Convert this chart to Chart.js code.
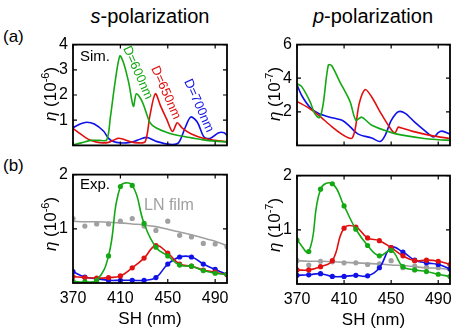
<!DOCTYPE html>
<html lang="en">
<head>
<meta charset="UTF-8">
<script src="https://cdn.jsdelivr.net/npm/chart.js"></script>
<style>
    body { margin: 0; width: 464px; height: 333px; background: #fff; position: relative; overflow: hidden;
           font-family: "Liberation Sans", Arial, sans-serif; color: #000; }
    canvas { position: absolute; }
    .txt { position: absolute; white-space: nowrap; line-height: 1; }
    .ylab { position: absolute; white-space: nowrap; font-size: 17px; line-height: 1;
            transform: translate(-50%, -50%) rotate(-90deg); }
    .ylab sup { font-size: 11px; vertical-align: 7px; }
    .rot { position: absolute; white-space: nowrap; font-size: 13px; line-height: 1;
           transform-origin: 0 50%; transform: rotate(66deg); }
</style>
</head>
<body>

<div class="txt" style="left:150px;top:6px;font-size:20px;transform:translateX(-50%)"><i>s</i>-polarization</div>
<div class="txt" style="left:373px;top:6px;font-size:20px;transform:translateX(-50%)"><i>p</i>-polarization</div>
<div class="txt" style="left:3px;top:28px;font-size:17px">(a)</div>
<div class="txt" style="left:3px;top:157px;font-size:17px">(b)</div>

<canvas id="sSim" width="240" height="130" style="left:0;top:30px"></canvas>
<canvas id="pSim" width="232" height="130" style="left:232px;top:30px"></canvas>
<canvas id="sExp" width="240" height="173" style="left:0;top:160px"></canvas>
<canvas id="pExp" width="232" height="173" style="left:232px;top:161px"></canvas>

<div class="ylab" style="left:49px;top:94px"><i>η</i> (10<sup>-6</sup>)</div>
<div class="ylab" style="left:273px;top:94px"><i>η</i> (10<sup>-7</sup>)</div>
<div class="ylab" style="left:49px;top:224px"><i>η</i> (10<sup>-6</sup>)</div>
<div class="ylab" style="left:273px;top:225px"><i>η</i> (10<sup>-7</sup>)</div>

<div class="txt" style="left:80px;top:48px;font-size:15px">Sim.</div>
<div class="txt" style="left:80px;top:176px;font-size:15px">Exp.</div>
<div class="txt" style="left:144px;top:197px;font-size:16px;color:#a0a0a0">LN film</div>

<div class="rot" style="left:127px;top:40px;color:#14a814">D=600nm</div>
<div class="rot" style="left:155px;top:60px;color:#e01010">D=650nm</div>
<div class="rot" style="left:188px;top:73px;color:#1010e8">D=700nm</div>

<script>
    // simulated spectra, s-polarization (units 1e-6)
    var sSim600Nm = [370,377,385,392,398.5,401.5,405.5,409.5,412.5,417,421,423.5,428.5,435,440,450,460,470,480,490,500];
    var sSim600   = [0.02,0.1,0.2,0.2,0.22,1.1,2.5,3.55,3.3,2.5,1.55,2.05,1.73,0.9,0.7,0.5,0.38,0.3,0.22,0.17,0.14];
    var sSim650Nm = [370,375,380,385,390,395,400,404,408,412,418,425,431,435,439.5,444,449,454,458,462,470,480,490,500];
    var sSim650   = [0.67,0.5,0.33,0.2,0.13,0.1,0.12,0.2,0.28,0.25,0.15,0.1,0.15,1.2,2.05,1.56,1.05,0.55,0.9,0.7,0.45,0.28,0.2,0.14];
    var sSim700Nm = [370,376,381.6,388,395.7,400,404,410,418,424,432,441,452,459,465,469.5,475,480.6,486,493,497.6,500];
    var sSim700   = [0.7,0.85,0.92,0.85,0.57,0.28,0.15,0.1,0.12,0.2,0.32,0.15,0.04,0.1,0.74,1.13,0.92,0.33,0.28,0.5,0.5,0.39];

    // simulated spectra, p-polarization (units 1e-7)
    var pSim600Nm = [370,374,381,385,389,392,396.6,399.5,406.5,415,420,425,433.5,450.4,462,478,490,500];
    var pSim600   = [3.68,3.5,2.62,1.91,1.65,2.35,4.78,4.74,3.77,2.62,1.5,1.68,1.2,0.76,0.58,0.41,0.34,0.3];
    var pSim650Nm = [370,381,388,399.5,408,414,417,419.5,423,428,433.5,440.6,447.6,453,456,459,467.5,484.5,500];
    var pSim650   = [2.62,2.18,1.82,1.12,0.67,0.44,0.45,1.0,2.53,3.33,2.88,2.0,1.2,0.73,1.08,1.03,0.85,0.58,0.41];
    var pSim700Nm = [370,374,381,388,398,409,415,422,433.5,440.6,444.8,450,456,462,470,479,486,490,493,500];
    var pSim700   = [3.6,2.97,2.27,1.91,1.68,1.47,1.12,0.67,0.44,0.23,0.58,1.47,2.0,1.91,1.38,0.85,0.5,0.76,0.85,0.67];

    // measured spectra, 10 nm steps
    var expNm = [370,380,390,400,410,420,430,440,450,460,470,480,490,500];
    var sExpGreen = [0.03,0.02,0.05,0.5,1.78,1.8,1.1,0.66,0.5,0.33,0.31,0.23,0.18,0.16];
    var sExpRed   = [0.12,0.1,0.09,0.1,0.13,0.28,0.46,0.69,0.55,0.35,0.31,0.24,0.2,0.15];
    var sExpBlue  = [0.21,0.11,0.08,0.05,0.05,0.05,0.05,0.1,0.35,0.48,0.48,0.35,0.25,0.16];
    var sExpFilm  = [1.19,1.05,1.09,1.09,1.14,1.19,1.05,0.97,1.14,0.88,0.85,0.73,0.72,0.67];
    var sFilmFit  = [1.14,1.13,1.13,1.12,1.11,1.09,1.07,1.04,0.99,0.94,0.89,0.83,0.77,0.69];
    var pExpGreen = [0.81,0.6,1.75,1.85,1.44,1.01,0.71,0.52,0.62,0.32,0.26,0.23,0.18,0.14];
    var pExpRed   = [0.26,0.26,0.32,0.43,1.03,1.05,0.85,0.8,0.67,0.52,0.43,0.44,0.42,0.36];
    var pExpBlue  = [0.16,0.17,0.19,0.14,0.14,0.16,0.15,0.3,0.67,0.59,0.44,0.39,0.36,0.28];
    var pExpFilm  = [0.43,0.35,0.42,0.41,0.39,0.39,0.36,0.37,0.43,0.3,0.33,0.31,0.3,0.27];
    var pFilmFit  = [0.43,0.42,0.42,0.41,0.4,0.39,0.38,0.37,0.35,0.34,0.32,0.3,0.29,0.27];

    var xTicks = [370,410,450,490];

    var GREEN = '#14a814', RED = '#e01010', BLUE = '#1010e8', GRAY = '#a0a0a0';

    Chart.defaults.font.family = '"Liberation Sans", Arial, sans-serif';
    Chart.defaults.color = '#000';

    function pts(xs, ys) {
        var out = [];
        for (var i = 0; i < xs.length; i++) out.push({ x: xs[i], y: ys[i] });
        return out;
    }

    function simLine(xs, ys, color) {
        return { data: pts(xs, ys), borderColor: color, borderWidth: 1.6, pointRadius: 0, tension: 0.3, fill: false };
    }

    function expLine(ys, color) {
        return { data: pts(expNm, ys), borderColor: color, backgroundColor: color, borderWidth: 1.6,
                 pointRadius: 2.6, pointBorderWidth: 0, tension: 0.45, fill: false };
    }

    function filmDots(ys) {
        return { data: pts(expNm, ys), backgroundColor: GRAY, borderColor: GRAY, showLine: false,
                 pointRadius: 2.6, pointBorderWidth: 0 };
    }

    function filmFit(ys) {
        return { data: pts(expNm, ys), borderColor: GRAY, borderWidth: 1.6, pointRadius: 0, tension: 0.4, fill: false };
    }

    // black box with inward ticks on all four sides
    var frame = {
        id: 'frame',
        afterDraw: function (chart) {
            var c = chart.ctx, a = chart.chartArea, sx = chart.scales.x, sy = chart.scales.y;
            var yt = chart.options.plugins.frame.yTicks;
            c.save();
            c.strokeStyle = '#000';
            c.lineWidth = 1.2;
            c.beginPath();
            xTicks.forEach(function (v) {
                var px = sx.getPixelForValue(v);
                c.moveTo(px, a.bottom); c.lineTo(px, a.bottom - 4);
                c.moveTo(px, a.top); c.lineTo(px, a.top + 4);
            });
            yt.forEach(function (v) {
                var py = sy.getPixelForValue(v);
                c.moveTo(a.left, py); c.lineTo(a.left + 4, py);
                c.moveTo(a.right, py); c.lineTo(a.right - 4, py);
            });
            c.stroke();
            c.lineWidth = 1.8;
            c.strokeRect(a.left, a.top, a.right - a.left, a.bottom - a.top);
            c.restore();
        }
    };

    function makePanel(id, datasets, yMax, yTicks, yWidth, rightPad, topPad, showX) {
        new Chart(document.getElementById(id), {
            type: 'line',
            data: { datasets: datasets },
            plugins: [frame],
            options: {
                responsive: false,
                animation: false,
                layout: { padding: { left: 0, top: topPad, right: rightPad, bottom: showX ? 0 : 9 } },
                plugins: { legend: { display: false }, tooltip: { enabled: false }, frame: { yTicks: yTicks } },
                scales: {
                    x: {
                        type: 'linear', min: 370, max: 500, display: showX,
                        afterBuildTicks: function (s) { s.ticks = xTicks.map(function (v) { return { value: v }; }); },
                        afterFit: function (s) { if (showX) s.height = 50; },
                        grid: { display: false, drawTicks: false },
                        border: { display: false },
                        ticks: { padding: 6, font: { size: 16 }, color: '#000', maxRotation: 0, autoSkip: false },
                        title: { display: true, text: 'SH (nm)', font: { size: 17 }, color: '#000', padding: { top: 0, bottom: 3 } }
                    },
                    y: {
                        type: 'linear', min: 0, max: yMax,
                        afterBuildTicks: function (s) { s.ticks = yTicks.map(function (v) { return { value: v }; }); },
                        afterFit: function (s) { s.width = yWidth; },
                        grid: { display: false, drawTicks: false },
                        border: { display: false },
                        ticks: { padding: 5, font: { size: 16 }, color: '#000', autoSkip: false }
                    }
                }
            }
        });
    }

    makePanel('sSim', [
        simLine(sSim600Nm, sSim600, GREEN),
        simLine(sSim650Nm, sSim650, RED),
        simLine(sSim700Nm, sSim700, BLUE)
    ], 4, [1, 2, 3, 4], 73, 13, 8, false);

    makePanel('pSim', [
        simLine(pSim600Nm, pSim600, GREEN),
        simLine(pSim650Nm, pSim650, RED),
        simLine(pSim700Nm, pSim700, BLUE)
    ], 6, [2, 4, 6], 65, 14, 8, false);

    makePanel('sExp', [
        expLine(sExpGreen, GREEN),
        expLine(sExpRed, RED),
        expLine(sExpBlue, BLUE),
        filmFit(sFilmFit),
        filmDots(sExpFilm)
    ], 2, [1, 2], 73, 13, 8, true);

    makePanel('pExp', [
        expLine(pExpGreen, GREEN),
        expLine(pExpRed, RED),
        expLine(pExpBlue, BLUE),
        filmFit(pFilmFit),
        filmDots(pExpFilm)
    ], 2, [1, 2], 65, 14, 7, true);
</script>
</body>
</html>
